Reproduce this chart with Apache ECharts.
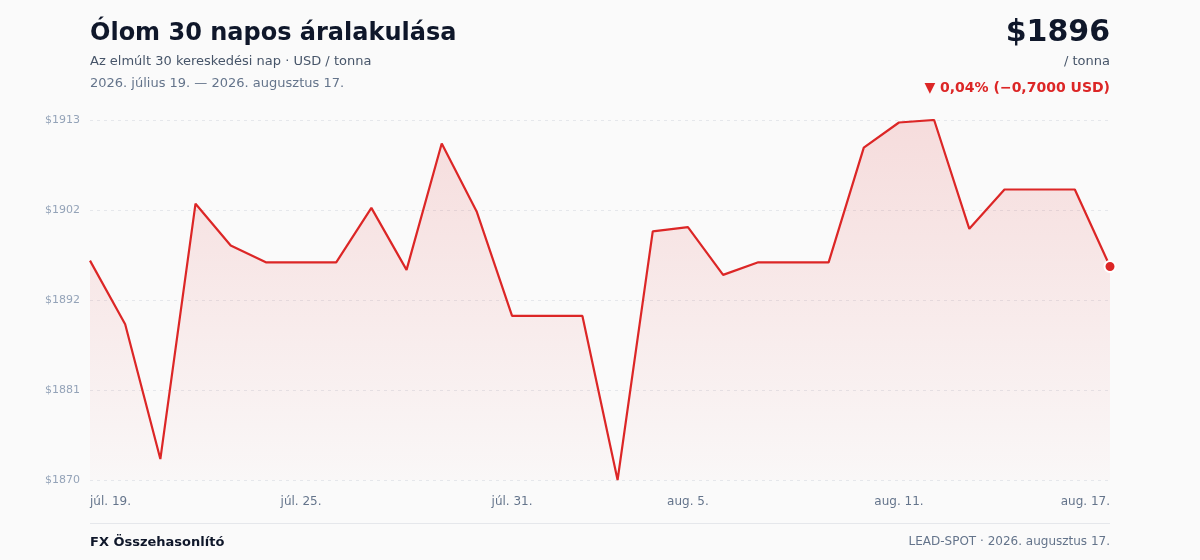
<!DOCTYPE html>
<html>
<head>
<meta charset="utf-8">
<script src="https://cdn.jsdelivr.net/npm/echarts@6/dist/echarts.min.js"></script>
<style>
html,body{margin:0;padding:0;background:#fafafa;}
#chart{width:1200px;height:560px;}
</style>
</head>
<body>
<div id="chart"></div>
<script>
const categories = ["júl. 19.","júl. 20.","júl. 21.","júl. 22.","júl. 23.","júl. 24.","júl. 25.","júl. 26.","júl. 27.","júl. 28.","júl. 29.","júl. 30.","júl. 31.","aug. 1.","aug. 2.","aug. 3.","aug. 4.","aug. 5.","aug. 6.","aug. 7.","aug. 8.","aug. 9.","aug. 10.","aug. 11.","aug. 12.","aug. 13.","aug. 14.","aug. 15.","aug. 16.","aug. 17."];
const prices = [1896.2,1888.6,1872.5,1903.0,1898.0,1896.0,1896.0,1896.0,1902.5,1895.1,1910.2,1902.0,1889.6,1889.6,1889.6,1870.0,1899.7,1900.2,1894.5,1896.0,1896.0,1896.0,1909.7,1912.7,1913.0,1900.0,1904.7,1904.7,1904.7,1895.5];
const labelIndices = [0,6,12,17,23,29];
const yMin = 1870, yMax = 1913;

const chart = echarts.init(document.getElementById('chart'), null, {renderer:'canvas'});
const FONT = "'DejaVu Sans', sans-serif";
const seriesData = prices.map((v,i)=> i===prices.length-1
  ? {value:v, symbol:'circle', symbolSize:11, itemStyle:{color:'#dc2626', borderColor:'#ffffff', borderWidth:2}}
  : {value:v, symbol:'none'});

chart.setOption({
  backgroundColor:'#fafafa',
  animation:false,
  textStyle:{fontFamily:FONT},
  grid:{left:90,right:90,top:120,bottom:80,containLabel:false},
  graphic:[
    {type:'text',left:90,top:22,style:{text:'Ólom 30 napos áralakulása',font:"bold 24px 'DejaVu Sans'",fill:'#0f172a'}},
    {type:'text',left:90,top:55,style:{text:'Az elmúlt 30 kereskedési nap · USD / tonna',font:"13px 'DejaVu Sans'",fill:'#475569'}},
    {type:'text',left:90,top:77,style:{text:'2026. július 19. — 2026. augusztus 17.',font:"13px 'DejaVu Sans'",fill:'#64748b'}},
    {type:'text',right:90,top:18,style:{text:'$1896',font:"bold 30px 'DejaVu Sans'",fill:'#0f172a',align:'right'}},
    {type:'text',right:90,top:55,style:{text:'/ tonna',font:"13px 'DejaVu Sans'",fill:'#475569',align:'right'}},
    {type:'text',right:90,top:81,style:{text:'▼ 0,04% (−0,7000 USD)',font:"bold 14px 'DejaVu Sans'",fill:'#dc2626',align:'right'}},
    {type:'line',shape:{x1:90,y1:523.5,x2:1110,y2:523.5},style:{stroke:'#e5e7eb',lineWidth:1}},
    {type:'text',left:90,top:536,style:{text:'FX Összehasonlító',font:"bold 13px 'DejaVu Sans'",fill:'#0f172a'}},
    {type:'text',right:90,top:536,style:{text:'LEAD-SPOT · 2026. augusztus 17.',font:"12px 'DejaVu Sans'",fill:'#64748b',align:'right'}}
  ],
  xAxis:{
    type:'category',
    data:categories,
    boundaryGap:false,
    axisLine:{show:false},
    axisTick:{show:false},
    splitLine:{show:false},
    axisLabel:{
      interval:(idx)=>labelIndices.includes(idx),
      color:'#64748b',fontSize:12,fontFamily:FONT,margin:16,
      alignMinLabel:'left',alignMaxLabel:'right'
    }
  },
  yAxis:{
    type:'value',
    min:yMin,max:yMax,interval:(yMax-yMin)/4,
    axisLine:{show:false},
    axisTick:{show:false},
    axisLabel:{color:'#94a3b8',fontSize:11,fontFamily:FONT,margin:10,formatter:(v)=>'$'+Math.round(v)},
    splitLine:{lineStyle:{color:'#e5e7eb',type:[3,4],width:1}}
  },
  series:[{
    type:'line',
    data:seriesData,
    symbol:'none',
    showSymbol:true,
    lineStyle:{color:'#dc2626',width:2.2},
    itemStyle:{color:'#dc2626'},
    areaStyle:{color:new echarts.graphic.LinearGradient(0,0,0,1,[
      {offset:0,color:'rgba(220,38,38,0.2)'},
      {offset:1,color:'rgba(220,38,38,0.02)'}
    ])},
    emphasis:{disabled:true}
  }]
});
</script>
</body>
</html>
